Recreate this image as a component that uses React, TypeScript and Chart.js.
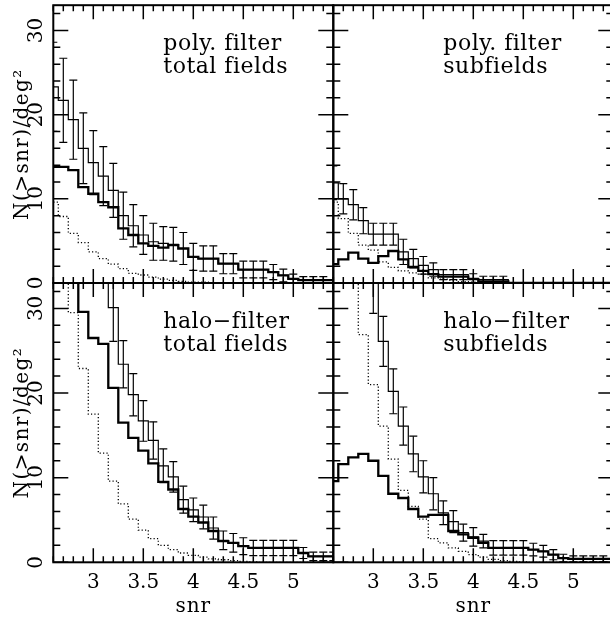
import React, { useEffect, useRef } from 'react';
import { Chart, registerables } from 'chart.js';

Chart.register(...registerables);

// ---------- data ----------
const snrBins = [2.6, 2.7, 2.8, 2.9, 3.0, 3.1, 3.2, 3.3, 3.4, 3.5, 3.6, 3.7, 3.8, 3.9, 4.0, 4.1, 4.2, 4.3, 4.4, 4.5, 4.6, 4.7, 4.8, 4.9, 5.0, 5.1, 5.2, 5.3, 5.4];
const xTickLabels = ['3', '3.5', '4', '4.5', '5'];
const yTickLabels = ['0', '10', '20', '30'];
const xAxisTitle = 'snr';
const yAxisTitle = 'N(>snr)/deg²';

// poly. filter, total fields
const polyTotalUpper = [23.3, 21.7, 19.4, 16.0, 14.3, 12.7, 11.0, 8.0, 6.8, 5.7, 4.9, 4.7, 4.6, 4.1, 3.1, 2.9, 2.9, 2.3, 2.3, 1.6, 1.6, 1.6, 1.3, 0.9, 0.5, 0.35, 0.35, 0.35, 0.35];
const polyTotalUpperErr = [5.3, 5.0, 4.7, 4.2, 3.8, 3.5, 3.2, 2.8, 2.5, 2.3, 2.2, 2.0, 2.0, 1.9, 1.6, 1.5, 1.5, 1.2, 1.2, 1.0, 1.0, 1.0, 0.9, 0.75, 0.55, 0.4, 0.4, 0.4, null];
const polyTotalThick = [13.8, 13.8, 13.4, 11.4, 10.6, 9.6, 9.0, 6.5, 5.7, 4.7, 4.4, 4.2, 4.5, 4.1, 3.1, 2.9, 2.9, 2.3, 2.3, 1.6, 1.6, 1.6, 1.3, 0.9, 0.5, 0.35, 0.35, 0.35, 0.35];
const polyTotalDotted = [9.6, 7.9, 5.9, 4.8, 3.7, 2.9, 2.25, 1.7, 1.15, 0.95, 0.7, 0.45, 0.3, 0.2, 0.1, 0.1, 0.05, 0, 0, 0, 0, 0, 0, 0, 0, 0, 0, 0, 0];

// poly. filter, subfields
const polySubUpper = [11.9, 10.0, 9.3, 7.4, 5.8, 5.8, 5.8, 3.7, 2.9, 2.1, 1.6, 1.0, 1.0, 1.0, 0.55, 0.4, 0.4, 0.4, 0, 0, 0, 0, 0, 0, 0, 0, 0, 0, 0];
const polySubUpperErr = [2.0, 1.8, 1.8, 1.55, 1.3, 1.3, 1.3, 1.5, 1.1, 1.05, 0.8, 0.6, 0.6, 0.6, 0.55, 0.4, 0.4, 0.4, null, null, null, null, null, null, null, null, null, null, null];
const polySubThick = [2.25, 2.8, 3.6, 2.9, 2.4, 3.2, 3.8, 2.8, 1.9, 1.45, 1.05, 0.75, 0.75, 0.75, 0.45, 0.2, 0.2, 0.2, 0, 0, 0, 0, 0, 0, 0, 0, 0, 0, 0];
const polySubDotted = [9.6, 7.65, 5.9, 4.5, 3.9, 2.5, 1.85, 1.45, 1.2, 1.05, 0.6, 0.45, 0.35, 0.15, 0.1, 0.05, 0, 0, 0, 0, 0, 0, 0, 0, 0, 0, 0, 0, 0];

// halo-filter, total fields
const haloTotalUpper = [50, 46, 43, 40, 38, 38, 30.1, 23.4, 19.8, 16.7, 14.4, 11.4, 10.1, 7.4, 6.2, 5.35, 4.05, 2.6, 2.3, 1.9, 1.7, 1.7, 1.7, 1.7, 1.7, 1.1, 0.7, 0.7, 0.7];
const haloTotalUpperErr = [5, 5, 5, 5, 4.5, 4.2, 4.0, 2.8, 2.5, 2.4, 2.2, 2.0, 1.8, 1.6, 1.4, 1.4, 1.3, 1.1, 1.1, 1.0, 0.9, 0.9, 0.9, 0.9, 0.9, 0.65, 0.5, 0.5, 0.5];
const haloTotalThick = [45, 40, 36, 29.6, 26.5, 25.8, 20.6, 16.5, 14.7, 13.2, 11.7, 9.5, 8.6, 6.3, 5.4, 4.7, 3.7, 2.5, 2.3, 1.9, 1.7, 1.7, 1.7, 1.7, 1.7, 1.1, 0.7, 0.7, 0.7];
const haloTotalDotted = [48, 42, 29.5, 22.9, 17.5, 12.9, 9.6, 6.9, 5.1, 3.8, 2.8, 2.0, 1.5, 1.1, 0.83, 0.6, 0.4, 0.3, 0.2, 0.1, 0.05, 0, 0, 0, 0, 0, 0, 0, 0];

// halo-filter, subfields
const haloSubUpper = [50, 46, 43, 40, 34.5, 26.1, 20.2, 16.1, 12.8, 10.1, 8.1, 5.85, 4.8, 3.5, 3.0, 2.5, 1.7, 1.7, 1.7, 1.7, 1.5, 1.3, 0.9, 0.5, 0.4, 0.4, 0.4, 0.4, 0.4];
const haloSubUpperErr = [5.5, 5.5, 5.5, 5.5, 5.1, 2.95, 2.65, 2.25, 2.1, 1.9, 1.9, 1.4, 1.3, 1.0, 1.1, 0.8, 0.85, 0.85, 0.85, 0.85, 0.75, 0.7, 0.6, 0.45, 0.35, 0.35, 0.35, 0.35, null];
const haloSubThick = [9.6, 11.6, 12.4, 12.8, 12.0, 10.2, 8.1, 7.6, 6.3, 5.4, 5.6, 5.6, 3.7, 3.3, 2.9, 2.3, 1.7, 1.7, 1.7, 1.7, 1.5, 1.3, 0.9, 0.5, 0.4, 0.4, 0.4, 0.4, 0.4];
const haloSubDotted = [48, 44, 38, 26.9, 21.0, 16.1, 12.2, 8.5, 6.6, 5.1, 2.8, 2.3, 1.7, 1.3, 0.9, 0.6, 0.35, 0.2, 0.1, 0.05, 0, 0, 0, 0, 0, 0, 0, 0, 0];

// ---------- layout ----------
const CW = 620;
const CH = 620;
const FONT = '"DejaVu Serif", "Liberation Serif", serif';

type PanelDef = {
  key: string;
  rect: [number, number, number, number]; // left, top, right, bottom
  lines: [string, string];
  upper: number[];
  upperErr: (number | null)[];
  thick: number[];
  dotted: number[];
  yLabels: boolean;
  xLabels: boolean;
};

const panels: PanelDef[] = [
  { key: 'tl', rect: [53.3, 4, 333.3, 283], lines: ['poly. filter', 'total fields'], upper: polyTotalUpper, upperErr: polyTotalUpperErr, thick: polyTotalThick, dotted: polyTotalDotted, yLabels: true, xLabels: false },
  { key: 'tr', rect: [333.3, 4, 613.3, 283], lines: ['poly. filter', 'subfields'], upper: polySubUpper, upperErr: polySubUpperErr, thick: polySubThick, dotted: polySubDotted, yLabels: false, xLabels: false },
  { key: 'bl', rect: [53.3, 283, 333.3, 562.3], lines: ['halo\u2212filter', 'total fields'], upper: haloTotalUpper, upperErr: haloTotalUpperErr, thick: haloTotalThick, dotted: haloTotalDotted, yLabels: true, xLabels: true },
  { key: 'br', rect: [333.3, 283, 613.3, 562.3], lines: ['halo\u2212filter', 'subfields'], upper: haloSubUpper, upperErr: haloSubUpperErr, thick: haloSubThick, dotted: haloSubDotted, yLabels: false, xLabels: true },
];

const decorPlugin = {
  id: 'panelDecor',
  afterDraw(chart: any, _args: any, opts: any) {
    const { ctx, chartArea: a, scales } = chart;
    const xs = scales.x;
    const ys = scales.y;
    ctx.save();
    ctx.strokeStyle = '#000';
    ctx.fillStyle = '#000';
    // ticks
    ctx.lineWidth = 1.5;
    ctx.beginPath();
    for (let k = 26; k <= 54; k++) {
      const px = xs.getPixelForValue(k / 10);
      const len = k % 5 === 0 ? 14 : 6;
      ctx.moveTo(px, a.bottom);
      ctx.lineTo(px, a.bottom - len);
      ctx.moveTo(px, a.top);
      ctx.lineTo(px, a.top + len);
    }
    for (let k = 0; k <= 32; k += 2) {
      const py = ys.getPixelForValue(k);
      const len = k % 10 === 0 ? 15 : 7;
      ctx.moveTo(a.left, py);
      ctx.lineTo(a.left + len, py);
      ctx.moveTo(a.right, py);
      ctx.lineTo(a.right - len, py);
    }
    ctx.stroke();
    // frame
    ctx.lineWidth = 2;
    ctx.strokeRect(a.left, a.top, a.right - a.left, a.bottom - a.top);

    // panel text
    ctx.font = `22px ${FONT}`;
    ctx.textAlign = 'left';
    ctx.textBaseline = 'alphabetic';
    ctx.letterSpacing = '0.5px';
    ctx.fillText(opts.lines[0], a.left + 110, a.top + 45);
    ctx.fillText(opts.lines[1], a.left + 110, a.top + 68);

    ctx.font = `20px ${FONT}`;
    if (opts.yLabels) {
      ctx.letterSpacing = '0px';
      for (const lab of yTickLabels) {
        const py = ys.getPixelForValue(Number(lab));
        ctx.save();
        ctx.translate(a.left - 11, py);
        ctx.rotate(-Math.PI / 2);
        ctx.textAlign = 'center';
        ctx.fillText(lab, 0, 0);
        ctx.restore();
      }
      ctx.letterSpacing = '1.4px';
      ctx.save();
      ctx.translate(a.left - 25, (a.top + a.bottom) / 2);
      ctx.rotate(-Math.PI / 2);
      ctx.textAlign = 'center';
      ctx.fillText(yAxisTitle, 0, 0);
      ctx.restore();
    }
    if (opts.xLabels) {
      ctx.letterSpacing = '0px';
      ctx.textAlign = 'center';
      for (const lab of xTickLabels) {
        const px = xs.getPixelForValue(Number(lab));
        ctx.fillText(lab, px, a.bottom + 26);
      }
      ctx.letterSpacing = '1px';
      ctx.fillText(xAxisTitle, (a.left + a.right) / 2, a.bottom + 49.5);
    }
    ctx.restore();
  },
};

function Panel({ def }: { def: PanelDef }) {
  const ref = useRef<HTMLCanvasElement>(null);
  useEffect(() => {
    const [l, t, r, b] = def.rect;
    const pts = (arr: number[]) => snrBins.map((x, i) => ({ x, y: arr[i] }));
    const stems: any[] = [];
    const caps: any[] = [];
    snrBins.forEach((x, i) => {
      const e = def.upperErr[i];
      if (e == null) return;
      const v = def.upper[i];
      stems.push({ x, y: v - e }, { x, y: v + e }, { x, y: null });
      caps.push({ x, y: v - e }, { x, y: v + e });
    });
    const chart = new Chart(ref.current as HTMLCanvasElement, {
      type: 'line',
      data: {
        datasets: [
          { data: pts(def.dotted), stepped: 'middle', borderColor: '#000', borderWidth: 1.3, borderDash: [1.2, 2.2], pointRadius: 0 },
          { data: pts(def.thick), stepped: 'middle', borderColor: '#000', borderWidth: 2.3, pointRadius: 0 },
          { data: pts(def.upper), stepped: 'middle', borderColor: '#000', borderWidth: 1.2, pointRadius: 0 },
          { data: stems, borderColor: '#000', borderWidth: 1.2, pointRadius: 0, spanGaps: false },
          { data: caps, showLine: false, pointStyle: 'line', pointRadius: 4, pointBorderWidth: 1.2, pointBorderColor: '#000', pointBackgroundColor: '#000' },
        ] as any,
      },
      options: {
        responsive: false,
        animation: false,
        devicePixelRatio: 1,
        events: [],
        layout: { padding: { left: l, top: t, right: CW - r, bottom: CH - b } },
        scales: {
          x: { type: 'linear', min: 2.6, max: 5.4, display: false },
          y: { type: 'linear', min: 0, max: 33, display: false },
        },
        plugins: {
          legend: { display: false },
          tooltip: { enabled: false },
          panelDecor: { lines: def.lines, yLabels: def.yLabels, xLabels: def.xLabels },
        } as any,
      },
      plugins: [decorPlugin],
    });
    return () => chart.destroy();
  }, [def]);
  return <canvas ref={ref} width={CW} height={CH} style={{ position: 'absolute', left: 0, top: 0 }} />;
}

export default function App() {
  return (
    <div style={{ position: 'fixed', left: 0, top: 0, width: 610, height: 618, overflow: 'hidden', background: '#fff' }}>
      {panels.map((p) => (
        <Panel key={p.key} def={p} />
      ))}
    </div>
  );
}
